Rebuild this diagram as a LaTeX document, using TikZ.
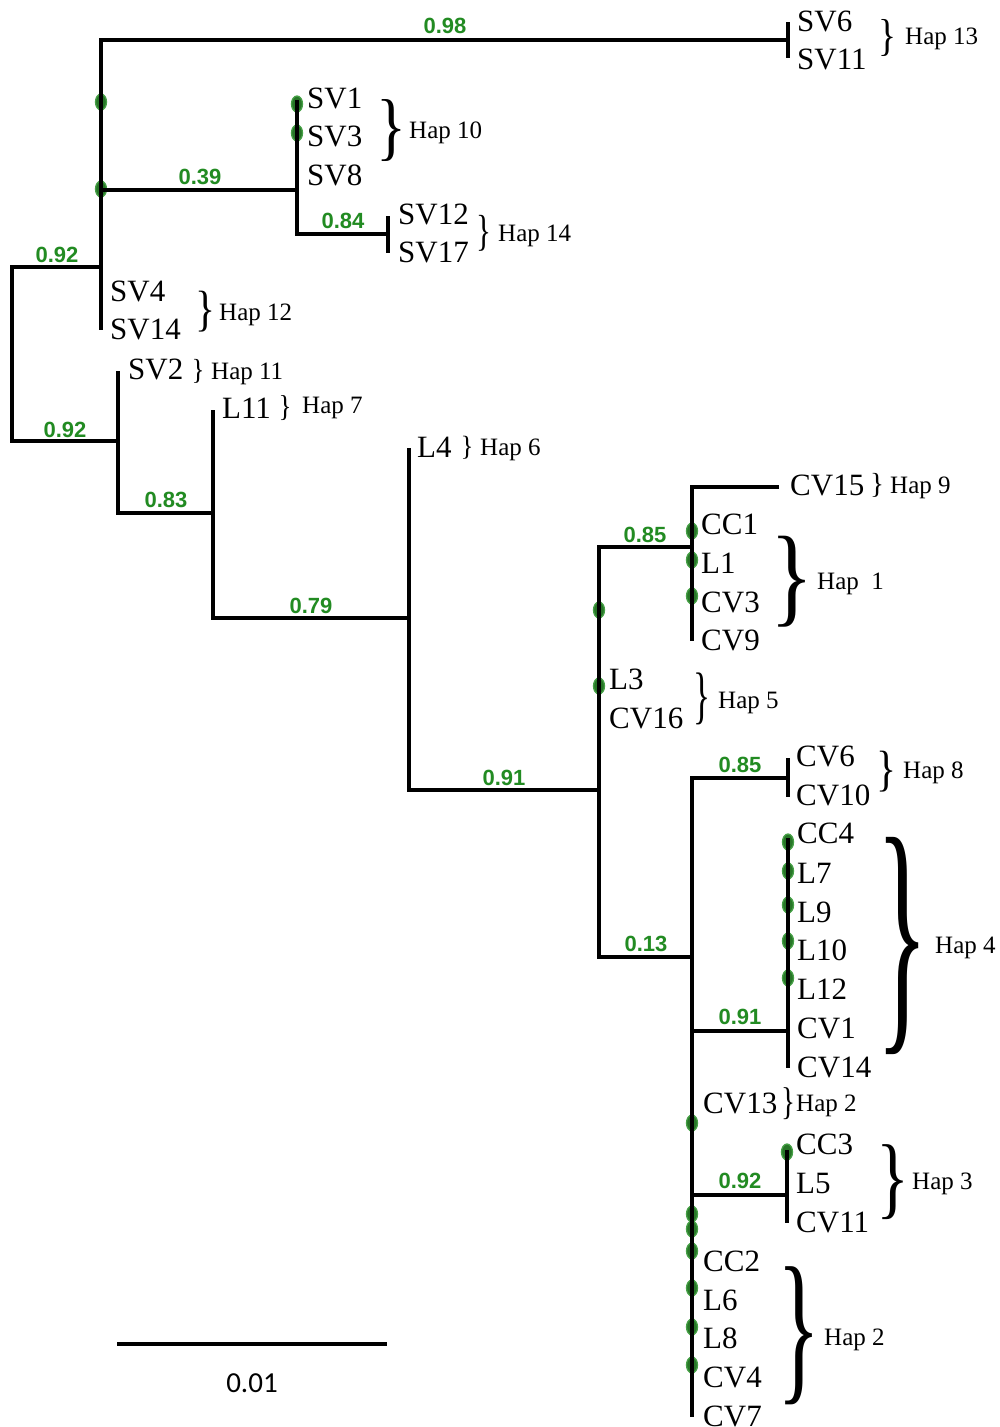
\documentclass[tikz,border=0pt]{standalone}
\usepackage{fontspec}
\usepackage{graphicx}
\setmainfont{Liberation Serif}
\newfontfamily\bootfont{Liberation Sans}
\newfontfamily\barfont{Carlito}
\definecolor{bootgreen}{RGB}{34,139,34}
\definecolor{markfill}{RGB}{40,118,40}
\definecolor{markedge}{RGB}{70,160,70}
\tikzset{
  br/.style={line width=3.5pt, line join=miter, black},
  taxon/.style={anchor=base west, inner sep=0pt, font=\fontsize{31}{31}\selectfont},
  hap/.style={anchor=base west, inner sep=0pt, font=\fontsize{25}{25}\selectfont},
  boot/.style={anchor=base, inner sep=0pt, text=bootgreen, font=\bootfont\bfseries\fontsize{22}{22}\selectfont},
  brc/.style={inner sep=0pt, anchor=center},
  marker/.style={ellipse, inner sep=0pt, minimum width=11pt, minimum height=16pt, fill=markfill, draw=markedge, line width=1.3pt},
}
\usetikzlibrary{shapes.geometric}
\newcommand{\brglyph}[2]{\resizebox*{#1pt}{#2pt}{\}}}
\begin{document}
\begin{tikzpicture}[x=1pt,y=-1pt]
\useasboundingbox (0,0) rectangle (1000,1427);
\fill[white] (0,0) rectangle (1000,1427);
% junction coordinates
\coordinate (r0top) at (12,267);
\coordinate (r0bot) at (12,441);
\coordinate (A) at (101,267);
\coordinate (Atop) at (101,40);
\coordinate (Abot) at (101,330);
\coordinate (tip13) at (788,40);
\coordinate (t13a) at (788,22);
\coordinate (t13b) at (788,58);
\coordinate (Bj) at (101,190);
\coordinate (B) at (297,190);
\coordinate (Btop) at (297,100);
\coordinate (Bbot) at (297,234);
\coordinate (tip14) at (388,234);
\coordinate (t14a) at (388,216);
\coordinate (t14b) at (388,253);
\coordinate (C) at (118,441);
\coordinate (Ctop) at (118,371);
\coordinate (Cbot) at (118,513);
\coordinate (D) at (213,513);
\coordinate (Dtop) at (213,410);
\coordinate (Dbot) at (213,618);
\coordinate (E) at (409,618);
\coordinate (Etop) at (409,448);
\coordinate (Ebot) at (409,790);
\coordinate (F) at (599,790);
\coordinate (Ftop) at (599,547);
\coordinate (Fbot) at (599,957);
\coordinate (G) at (692,547);
\coordinate (Gtop) at (692,487);
\coordinate (Gbot) at (692,641);
\coordinate (tip9) at (779,487);
\coordinate (H) at (692,957);
\coordinate (Htop) at (692,778);
\coordinate (Hbot) at (692,1417);
\coordinate (tip8) at (788,778);
\coordinate (t8a) at (788,758);
\coordinate (t8b) at (788,797);
\coordinate (Ij) at (692,1031);
\coordinate (I) at (788,1031);
\coordinate (Itop) at (788,838);
\coordinate (Ibot) at (788,1068);
\coordinate (Jj) at (692,1195);
\coordinate (J) at (787,1195);
\coordinate (Jtop) at (787,1150);
\coordinate (Jbot) at (787,1223);
\coordinate (sb1) at (117,1344);
\coordinate (sb2) at (387,1344);

% markers
\foreach \n/\x/\y in {m1/101/102, m2/101/189, m3/297/104, m4/297/133,
  m5/692/531, m6/692/560, m7/692/596, m8/599/610, m9/599/686,
  m10/788/842, m11/788/871, m12/788/905, m13/788/941, m14/788/978,
  m15/692/1123, m16/787/1152, m17/692/1214, m18/692/1229, m19/692/1251,
  m20/692/1288, m21/692/1327, m22/692/1365}
  \node[marker] (\n) at (\x,\y) {};

% tree
\draw[br] (A) -- (r0top) -- (r0bot) -- (C);
\draw[br] (tip13) -- (Atop) -- (Abot);
\draw[br] (t13a) -- (t13b);
\draw[br] (Bj) -- (B);
\draw[br] (Btop) -- (Bbot) -- (tip14);
\draw[br] (t14a) -- (t14b);
\draw[br] (Ctop) -- (Cbot) -- (D);
\draw[br] (Dtop) -- (Dbot) -- (E);
\draw[br] (Etop) -- (Ebot) -- (F);
\draw[br] (G) -- (Ftop) -- (Fbot) -- (H);
\draw[br] (tip9) -- (Gtop) -- (Gbot);
\draw[br] (tip8) -- (Htop) -- (Hbot);
\draw[br] (t8a) -- (t8b);
\draw[br] (Ij) -- (I);
\draw[br] (Itop) -- (Ibot);
\draw[br] (Jj) -- (J);
\draw[br] (Jtop) -- (Jbot);
\draw[br] (sb1) -- (sb2);

% bootstrap values
\node[boot] (v1) at (445,33) {0.98};
\node[boot] (v2) at (200,184) {0.39};
\node[boot] (v3) at (343,228) {0.84};
\node[boot] (v4) at (57,262) {0.92};
\node[boot] (v5) at (65,437) {0.92};
\node[boot] (v6) at (166,507) {0.83};
\node[boot] (v7) at (311,613) {0.79};
\node[boot] (v8) at (504,785) {0.91};
\node[boot] (v9) at (645,542) {0.85};
\node[boot] (v10) at (740,772) {0.85};
\node[boot] (v11) at (646,951) {0.13};
\node[boot] (v12) at (740,1024) {0.91};
\node[boot] (v13) at (740,1188) {0.92};

% taxa
\node[taxon] (SV6) at (797,31) {SV6};
\node[taxon] (SV11) at (797,69) {SV11};
\node[taxon] (SV1) at (307,108) {SV1};
\node[taxon] (SV3) at (307,146) {SV3};
\node[taxon] (SV8) at (307,185) {SV8};
\node[taxon] (SV12) at (398,224) {SV12};
\node[taxon] (SV17) at (398,262) {SV17};
\node[taxon] (SV4) at (110,301) {SV4};
\node[taxon] (SV14) at (110,339) {SV14};
\node[taxon] (SV2) at (128,379) {SV2};
\node[taxon] (L11) at (222,418) {L11};
\node[taxon] (L4) at (417,457) {L4};
\node[taxon] (CV15) at (790,495) {CV15};
\node[taxon] (CC1) at (701,534) {CC1};
\node[taxon] (L1) at (701,573) {L1};
\node[taxon] (CV3) at (701,612) {CV3};
\node[taxon] (CV9) at (701,650) {CV9};
\node[taxon] (L3) at (609,689) {L3};
\node[taxon] (CV16) at (609,728) {CV16};
\node[taxon] (CV6) at (796,766) {CV6};
\node[taxon] (CV10) at (796,805) {CV10};
\node[taxon] (CC4) at (797,843) {CC4};
\node[taxon] (L7) at (797,883) {L7};
\node[taxon] (L9) at (797,922) {L9};
\node[taxon] (L10) at (797,960) {L10};
\node[taxon] (L12) at (797,999) {L12};
\node[taxon] (CV1) at (797,1038) {CV1};
\node[taxon] (CV14) at (797,1077) {CV14};
\node[taxon] (CV13) at (703,1113) {CV13};
\node[taxon] (CC3) at (796,1154) {CC3};
\node[taxon] (L5) at (796,1193) {L5};
\node[taxon] (CV11) at (796,1232) {CV11};
\node[taxon] (CC2) at (703,1271) {CC2};
\node[taxon] (L6) at (703,1310) {L6};
\node[taxon] (L8) at (703,1348) {L8};
\node[taxon] (CV4) at (703,1387) {CV4};
\node[taxon] (CV7) at (703,1426) {CV7};

% braces
\node[brc] (b13) at (887,38) {\brglyph{18}{37}};
\node[brc] (b10) at (391,131) {\brglyph{30}{62}};
\node[brc] (b14) at (484,233) {\brglyph{15}{36}};
\node[brc] (b12) at (205,312) {\brglyph{20}{41}};
\node[brc] (b11) at (198,371) {\brglyph{13}{24}};
\node[brc] (b7) at (285,408) {\brglyph{13}{25}};
\node[brc] (b6) at (467,448) {\brglyph{13}{23}};
\node[brc] (b9) at (877,485) {\brglyph{14}{24}};
\node[brc] (b1) at (792,582) {\brglyph{43}{91}};
\node[brc] (b5) at (702,699) {\brglyph{17}{52}};
\node[brc] (b8) at (886,772) {\brglyph{20}{41}};
\node[brc] (b4) at (903,946) {\brglyph{52}{217}};
\node[brc] (b2s) at (788,1104) {\brglyph{14}{32}};
\node[brc] (b3) at (893,1182) {\brglyph{33}{75}};
\node[brc] (b2) at (799,1336) {\brglyph{43}{138}};

% haplotype labels
\node[hap] (h13) at (905,44) {Hap 13};
\node[hap] (h10) at (409,138) {Hap 10};
\node[hap] (h14) at (498,241) {Hap 14};
\node[hap] (h12) at (219,320) {Hap 12};
\node[hap] (h11) at (211,379) {Hap 11};
\node[hap] (h7) at (302,413) {Hap 7};
\node[hap] (h6) at (480,455) {Hap 6};
\node[hap] (h9) at (890,493) {Hap 9};
\node[hap] (h1) at (817,589) {Hap\ \ 1};
\node[hap] (h5) at (718,708) {Hap 5};
\node[hap] (h8) at (903,778) {Hap 8};
\node[hap] (h4) at (935,953) {Hap 4};
\node[hap] (h2s) at (796,1111) {Hap 2};
\node[hap] (h3) at (912,1189) {Hap 3};
\node[hap] (h2) at (824,1345) {Hap 2};

% scale
\node[anchor=base, inner sep=0pt, font=\barfont\fontsize{29}{29}\selectfont] (scl) at (252,1392) {0.01};
\end{tikzpicture}
\end{document}
